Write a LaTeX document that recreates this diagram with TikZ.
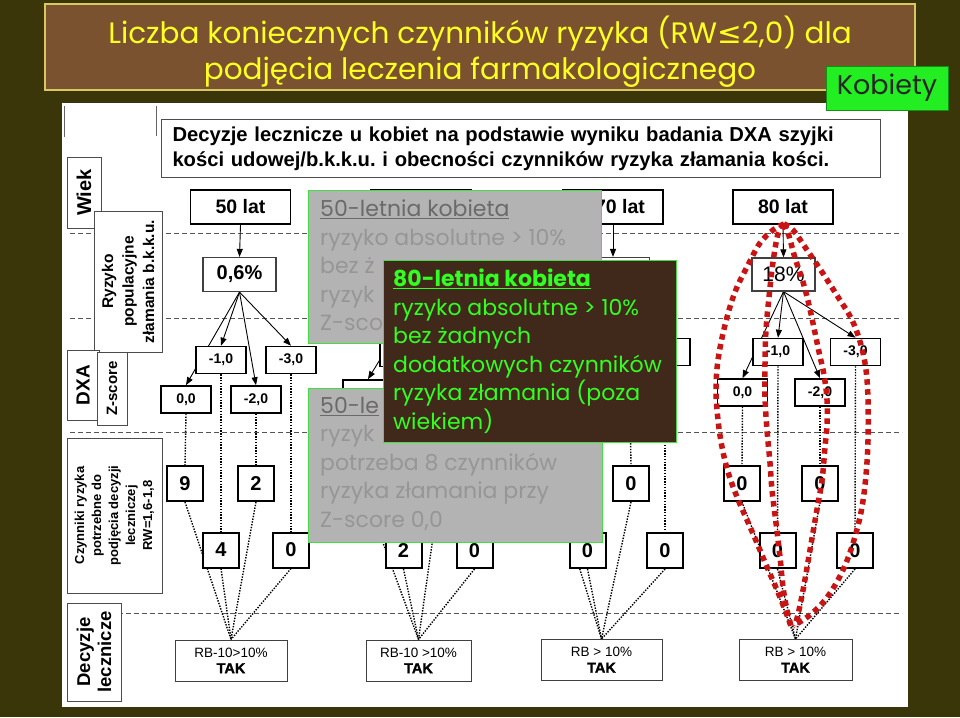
\documentclass[tikz,border=0pt]{standalone}
\usepackage{fontspec}
\setmainfont{Liberation Sans}
\newfontfamily\comic{Poppins}
\newfontfamily\dejavu{DejaVu Sans}
\usetikzlibrary{arrows.meta}
\frenchspacing
\definecolor{bgdark}{HTML}{3A3609}
\definecolor{titlebrown}{HTML}{7A5230}
\definecolor{titlebord}{HTML}{D8C860}
\definecolor{titleyellow}{HTML}{FFFF22}
\definecolor{kgreen}{HTML}{22EE22}
\definecolor{ovgray}{HTML}{B3B3B3}
\definecolor{ovtext}{HTML}{969696}
\definecolor{ovtitle}{HTML}{6A6A6A}
\definecolor{ovborder}{HTML}{44DD44}
\definecolor{brownbox}{HTML}{40291A}
\definecolor{ltgreen}{HTML}{33FF22}
\definecolor{redloop}{HTML}{C81414}
\definecolor{dashgray}{HTML}{555555}
\pgfdeclarelayer{back}\pgfdeclarelayer{mid}
\pgfsetlayers{back,mid,main}
\begin{document}
\begin{tikzpicture}[x=1pt,y=-1pt,
  hdr/.style={draw, line width=1.8pt, fill=white, minimum width=100pt, minimum height=34pt, inner sep=0pt, font=\fontsize{19.5}{20}\selectfont\bfseries},
  pct/.style={draw=black!75, line width=1.2pt, fill=white, minimum width=73pt, minimum height=34pt, inner sep=0pt},
  zbox/.style={draw, line width=1.6pt, fill=white, minimum width=50pt, minimum height=27pt, inner sep=0pt, font=\fontsize{14}{14}\selectfont\bfseries},
  fbox/.style={draw, line width=2pt, fill=white, minimum width=36pt, minimum height=35pt, inner sep=0pt, font=\fontsize{20}{20}\selectfont\bfseries},
  decbox/.style={draw=black!75, line width=1pt, fill=white, minimum height=41pt, inner sep=0pt, align=center, font=\fontsize{13.5}{16}\selectfont},
  lbl/.style={draw=black!70, fill=white, line width=1pt, rotate=90, align=center, inner sep=0pt, font=\bfseries},
  arr/.style={-{Triangle[length=8pt,width=6pt]}, line width=0.9pt},
  dotline/.style={line width=1.4pt, dash pattern=on 1.4pt off 1.4pt},
  dsh/.style={dashgray, line width=0.9pt, dash pattern=on 5pt off 3pt},
  redpath/.style={redloop, line width=5.5pt, dash pattern=on 5.5pt off 4.5pt},
  ovbox/.style={draw=ovborder, line width=1.2pt, fill=ovgray, anchor=north west, inner sep=0pt},
  ovtxt/.style={anchor=north west, inner sep=0pt, align=left, text=ovtext, font=\comic\fontsize{22}{28.5}\selectfont},
]
\useasboundingbox (0,0) rectangle (960,717);
\begin{pgfonlayer}{back}
\fill[bgdark] (0,0) rectangle (960,717);
\draw[titlebord, fill=titlebrown, line width=1.2pt] (45,4) rectangle (915,90);
\fill[white] (62,103) rectangle (908,707);
\draw[black!60, line width=0.8pt] (64,106) -- (64,137) (156,106) -- (156,136);
\foreach \yy in {233,318,432,613} \draw[dsh] (70,\yy) -- (902,\yy);
\end{pgfonlayer}

% title
\node[font=\comic\fontsize{29.5}{36}\selectfont, text=titleyellow, align=center] (title) at (480,51.5)
  {Liczba koniecznych czynników ryzyka (RW{\dejavu ≤}2,0) dla\\podjęcia leczenia farmakologicznego};
\node[draw=kgreen!60!black, line width=0.8pt, fill=kgreen, minimum width=122pt, minimum height=44pt, inner sep=0pt,
  font=\comic\fontsize{27}{30}\selectfont, text=black!85] (kob) at (887,88) {Kobiety};

% header text box
\node[draw=black!70, line width=1pt, fill=white, anchor=north west, text width=697pt, inner xsep=11pt, inner ysep=0pt,
  minimum height=58pt, align=left, font=\fontsize{20.2}{25}\selectfont\bfseries] (head) at (161,119)
  {Decyzje lecznicze u kobiet na podstawie wyniku badania DXA szyjki\\kości udowej/b.k.k.u. i obecności czynników ryzyka złamania kości.};

% left labels
\node[lbl, minimum width=71pt, minimum height=34pt, font=\fontsize{20}{20}\selectfont\bfseries] (wiek) at (84,192.5) {Wiek};
\node[lbl, minimum width=141pt, minimum height=68pt, font=\fontsize{15.5}{20.5}\selectfont\bfseries] (ryz) at (128,281.5) {Ryzyko\\populacyjne\\złamania b.k.k.u.};
\node[lbl, minimum width=70pt, minimum height=32pt, font=\fontsize{19}{19}\selectfont\bfseries] (dxa) at (83,385) {DXA};
\node[lbl, minimum width=73pt, minimum height=30pt, font=\fontsize{15}{15}\selectfont\bfseries] (zsc) at (112,388.5) {Z-score};
\node[lbl, minimum width=155pt, minimum height=95pt, font=\fontsize{13}{17}\selectfont\bfseries] (czyn) at (114.5,515.5) {Czynniki ryzyka\\potrzebne do\\podjęcia decyzji\\leczniczej\\RW=1,6-1,8};
\node[lbl, minimum width=98pt, minimum height=54pt, font=\fontsize{18.5}{21}\selectfont\bfseries] (declab) at (94,652) {Decyzje\\lecznicze};

% column 1
\node[hdr] (h1) at (240.5,207) {50 lat};
\node[pct, font=\fontsize{20}{20}\selectfont\bfseries] (p1) at (239.5,274.5) {0,6\%};
\node[zbox] (z1-a) at (186,399.5) {0,0};
\node[zbox] (z1-b) at (221,360) {-1,0};
\node[zbox] (z1-c) at (256,399.5) {-2,0};
\node[zbox] (z1-d) at (291,360) {-3,0};
\node[fbox] (f1-a) at (185,483.5) {9};
\node[fbox] (f1-b) at (221,550) {4};
\node[fbox] (f1-c) at (256,483.5) {2};
\node[fbox] (f1-d) at (291,550) {0};
\node[decbox, minimum width=112pt] (d1) at (231,660.5) {RB-10>10\%\\{\fontsize{14.5}{16}\selectfont\bfseries\addfontfeature{FakeBold=1.5}TAK}};

% column 2 (mostly covered)
\node[hdr] (h2) at (421,207) {};
\node[pct] (p2) at (421,274.5) {};
\node[zbox] (z2-a) at (368,393.5) {};
\node[zbox] (z2-b) at (405,353) {};
\node[zbox] (z2-c) at (438,393.5) {};
\node[zbox] (z2-d) at (473,353) {};
\node[fbox] (f2-a) at (368,483.5) {};
\node[fbox] (f2-b) at (403.5,550.5) {2};
\node[fbox] (f2-c) at (438,483.5) {};
\node[fbox] (f2-d) at (474.5,550.5) {0};
\node[decbox, minimum width=105pt] (d2) at (418.5,660.5) {RB-10 >10\%\\{\fontsize{14.5}{16}\selectfont\bfseries\addfontfeature{FakeBold=1.5}TAK}};

% column 3 (partly covered)
\node[hdr] (h3) at (613,207) {\hspace*{14pt}70 lat};
\node[pct] (p3) at (613,274.5) {};
\node[zbox] (z3-a) at (559,392.5) {};
\node[zbox] (z3-b) at (594,352) {};
\node[zbox] (z3-c) at (630,392.5) {};
\node[zbox] (z3-d) at (665,352) {};
\node[fbox] (f3-a) at (559,483.5) {};
\node[fbox] (f3-b) at (587.5,550.5) {0};
\node[fbox] (f3-c) at (631,483.5) {0};
\node[fbox] (f3-d) at (665,550.5) {0};
\node[decbox, minimum width=121pt] (d3) at (601.5,660) {RB > 10\%\\{\fontsize{14.5}{16}\selectfont\bfseries\addfontfeature{FakeBold=1.5}TAK}};

% column 4
\node[hdr] (h4) at (783,207) {80 lat};
\node[pct, minimum width=63pt, minimum height=33pt, font=\fontsize{21}{21}\selectfont] (p4) at (783.5,274.5) {18\%};
\node[zbox] (z4-a) at (742.5,392.5) {0,0};
\node[zbox] (z4-b) at (778,352) {-1,0};
\node[zbox] (z4-c) at (820,392.5) {-2,0};
\node[zbox] (z4-d) at (855.5,352) {-3,0};
\node[fbox] (f4-a) at (742,483.5) {0};
\node[fbox] (f4-b) at (777.5,550.5) {0};
\node[fbox] (f4-c) at (820,483.5) {0};
\node[fbox] (f4-d) at (855,550.5) {0};
\node[decbox, minimum width=113pt] (d4) at (795.5,660) {RB > 10\%\\{\fontsize{14.5}{16}\selectfont\bfseries\addfontfeature{FakeBold=1.5}TAK}};

% connectors
\begin{pgfonlayer}{mid}
\foreach \c in {1,2,3,4}{
  \draw[arr] (h\c.south) -- (p\c.north);
  \foreach \k in {a,b,c,d}{
    \draw[arr] (p\c.south) -- (z\c-\k.north);
    \draw[dotline] (z\c-\k.south) -- (f\c-\k.north);
    \draw[dotline] (f\c-\k.south) -- (d\c.north);
  }
}
\end{pgfonlayer}

% overlays
\node[ovbox, minimum width=293pt, minimum height=153pt] (g1) at (308,190) {};
\node[ovtxt] (g1t) at (320,200) {{\color{ovtitle}\underline{50-letnia kobieta}}\\ryzyko absolutne > 10\%\\bez ż\\ryzyk\\Z-sco};
\node[ovbox, minimum width=294pt, minimum height=154pt] (g2) at (308,388) {};
\node[ovtxt] (g2t) at (320,397) {{\color{ovtitle}\underline{50-le}}\\ryzyk\\potrzeba 8 czynników\\ryzyka złamania przy\\Z-score 0,0};
\node[ovbox, draw=ovborder, fill=brownbox, minimum width=293pt, minimum height=182pt] (br) at (383,260) {};
\node[ovtxt, text=ltgreen] (brt) at (393,269) {{\bfseries\underline{80-letnia kobieta}}\\ryzyko absolutne > 10\%\\bez żadnych\\dodatkowych czynników\\ryzyka złamania (poza\\wiekiem)};

% red loops
\draw[redpath] plot[smooth, tension=0.6] coordinates {(784,224) (773,230) (760,243) (748,265) (735,292) (725,325) (718,360) (716,390) (718,420) (722,447) (728,472) (737,497) (747,520) (757,543) (767,567) (777,590) (785,610) (791,626)};
\draw[redpath] plot[smooth, tension=0.6] coordinates {(784,224) (793,230) (807,250) (822,272) (838,297) (852,320) (861,345) (866,370) (868,400) (868,440) (866,475) (862,507) (856,533) (848,558) (838,580) (825,600) (810,615) (793,626)};
\draw[redpath] plot[smooth, tension=0.6] coordinates {(784,224) (778,234) (773,262) (769,297) (766,330) (765,363) (765,397) (767,430) (770,463) (772,490) (776,523) (780,557) (783,587) (787,610) (791,626)};
\draw[redpath] plot[smooth, tension=0.6] coordinates {(784,224) (789,236) (795,258) (803,282) (809,305) (814,328) (819,352) (824,375) (827,400) (827,425) (825,447) (822,480) (816,515) (810,550) (804,585) (799,610) (795,626)};
\end{tikzpicture}
\end{document}
